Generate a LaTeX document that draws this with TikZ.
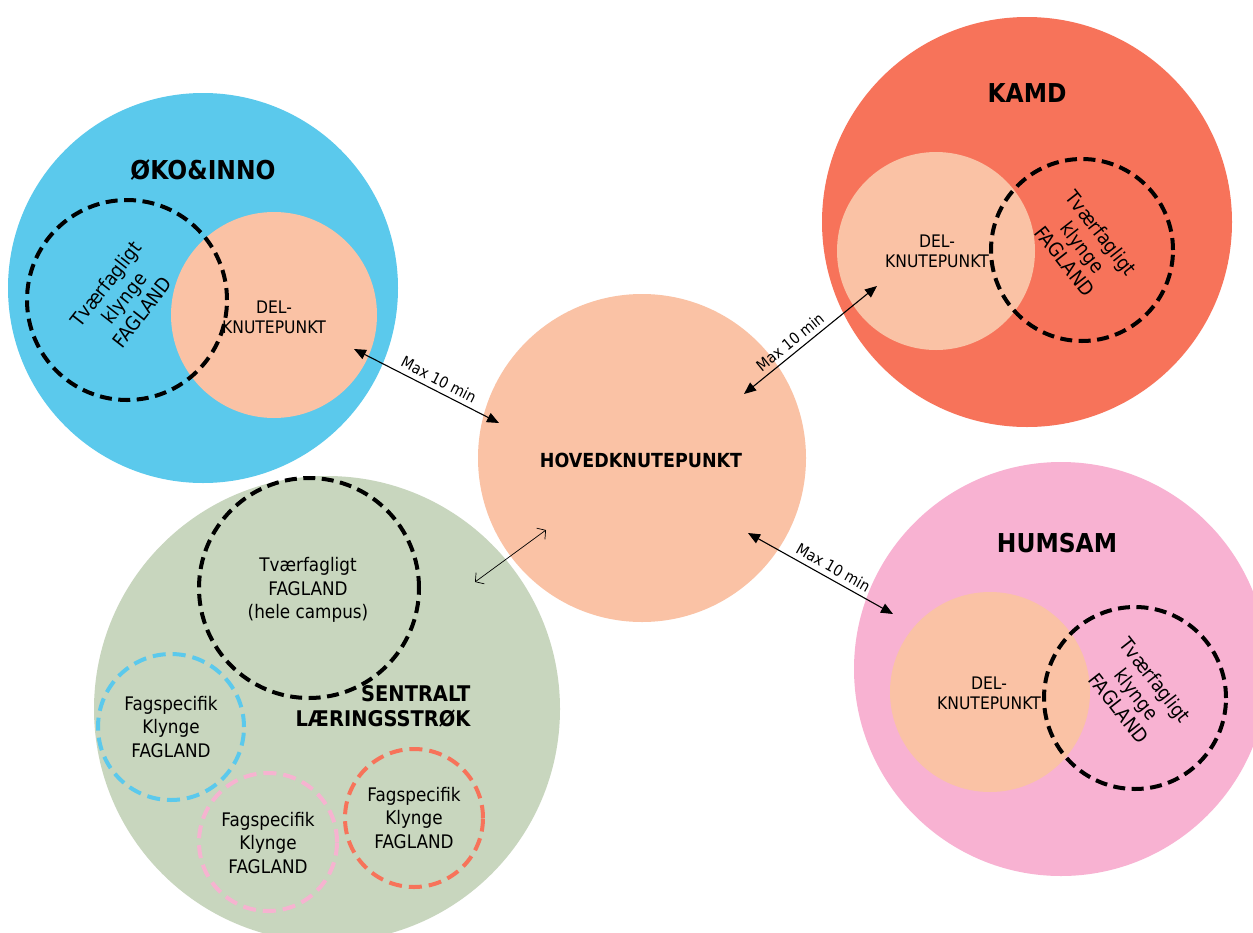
\documentclass[tikz,border=0pt]{standalone}
\usepackage{fontspec}
\setmainfont{DejaVu Sans}[FakeStretch=0.9]
\usetikzlibrary{arrows.meta}
\definecolor{cblue}{HTML}{5BC9EC}
\definecolor{cpeach}{HTML}{FAC2A5}
\definecolor{ccoral}{HTML}{F7735A}
\definecolor{cpink}{HTML}{F8B2D2}
\definecolor{cgreen}{HTML}{C8D6BE}
\definecolor{cpinkd}{HTML}{F6B3D0}
\begin{document}
\begin{tikzpicture}[x=1pt,y=-1pt,
  disc/.style={circle,inner sep=0pt,outer sep=0pt},
  dring/.style={circle,inner sep=0pt,outer sep=0pt,draw=black,line width=4pt,dash pattern=on 12pt off 6.5pt},
  cring/.style={circle,inner sep=0pt,outer sep=0pt,line width=4pt,dash pattern=on 13pt off 7pt},
  ttl/.style={font=\fontsize{26}{30}\selectfont\bfseries},
  deltxt/.style={align=center,font=\fontsize{17.3}{20}\selectfont},
  rottxt/.style={align=center,font=\fontsize{19.5}{23}\selectfont},
  fagtxt/.style={align=center,font=\fontsize{18.7}{23.5}\selectfont},
  lbl/.style={font=\fontsize{15.5}{17}\selectfont,inner sep=1pt},
  arr/.style={line width=1.1pt,{Triangle[length=12pt,width=10pt]}-{Triangle[length=12pt,width=10pt]}},
  thinarr/.style={line width=0.7pt,{Straight Barb[length=6pt,width=14pt]}-{Straight Barb[length=6pt,width=14pt]}}
]
\useasboundingbox (0,0) rectangle (1253,932);
\clip (0,0) rectangle (1253,932);
\fill[white] (0,0) rectangle (1253,932);

% OKO & INNO
\node[disc,fill=cblue,minimum size=390pt] (oko) at (203,288) {};
\node[disc,fill=cpeach,minimum size=206pt] (okodel) at (274,315) {};
\node[dring,minimum size=200pt] (okotv) at (127,300) {};

% KAMD
\node[disc,fill=ccoral,minimum size=410pt] (kamd) at (1027,222) {};
\node[disc,fill=cpeach,minimum size=198pt] (kamddel) at (936,251) {};
\node[dring,minimum size=182pt] (kamdtv) at (1082,250) {};

% HUMSAM
\node[disc,fill=cpink,minimum size=414pt] (hum) at (1061,669) {};
\node[disc,fill=cpeach,minimum size=200pt] (humdel) at (990,692) {};
\node[dring,minimum size=182pt] (humtv) at (1135,698) {};

% SENTRALT
\node[disc,fill=cgreen,minimum size=466pt] (sen) at (327,709) {};
\node[dring,minimum size=220pt] (sentv) at (309,588) {};
\node[cring,draw=cblue,minimum size=146pt] (fs1) at (171,727) {};
\node[cring,draw=cpinkd,minimum size=138pt] (fs2) at (268,842) {};
\node[cring,draw=ccoral,minimum size=138pt] (fs3) at (414,818) {};

% HUB
\node[disc,fill=cpeach,minimum size=328pt] (hub) at (642,458) {};

% arrows
\coordinate (a1) at (354,349); \coordinate (a2) at (499,423);
\coordinate (b1) at (744,394); \coordinate (b2) at (877,286);
\coordinate (c1) at (748,533); \coordinate (c2) at (893,614);
\coordinate (d1) at (475,582); \coordinate (d2) at (546,530);
\draw[arr] (a1) -- node[lbl,sloped,above=4pt,pos=0.55] (la) {Max 10 min} (a2);
\draw[arr] (b1) -- node[lbl,sloped,above=4pt,pos=0.4] (lb) {Max 10 min} (b2);
\draw[arr] (c1) -- node[lbl,sloped,above=4pt,pos=0.55] (lc) {Max 10 min} (c2);
\draw[thinarr] (d1) -- (d2);

% texts
\node[ttl] (okot) at (203,170) {ØKO\&INNO};
\node[deltxt] (okodelt) at (274,317) {DEL-\\KNUTEPUNKT};
\node[rottxt,rotate=52] (okotvt) at (124,298) {Tværfagligt\\klynge\\FAGLAND};

\node[ttl] (kamdt) at (1027,93) {KAMD};
\node[deltxt] (kamddelt) at (937,251) {DEL-\\KNUTEPUNKT};
\node[rottxt,rotate=-52] (kamdtvt) at (1083,247) {Tværfagligt\\klynge\\FAGLAND};

\node[ttl] (humt) at (1057,543) {HUMSAM};
\node[deltxt] (humdelt) at (989,693) {DEL-\\KNUTEPUNKT};
\node[rottxt,rotate=-52] (humtvt) at (1137,694) {Tværfagligt\\klynge\\FAGLAND};

\node[fagtxt] (sentvt) at (308,590) {Tværfagligt\\FAGLAND\\(hele campus)};
\node[align=right,anchor=east,font=\fontsize{21.6}{25}\selectfont\bfseries] (sent) at (474,706) {SENTRALT\\LÆRINGSSTRØK};
\node[fagtxt] (fs1t) at (171,727) {Fagspecifik\\Klynge\\FAGLAND};
\node[fagtxt] (fs2t) at (268,843) {Fagspecifik\\Klynge\\FAGLAND};
\node[fagtxt] (fs3t) at (414,818) {Fagspecifik\\Klynge\\FAGLAND};

\node[font=\fontsize{19.4}{22}\selectfont\bfseries] (hubt) at (641,460) {HOVEDKNUTEPUNKT};
\end{tikzpicture}
\end{document}
